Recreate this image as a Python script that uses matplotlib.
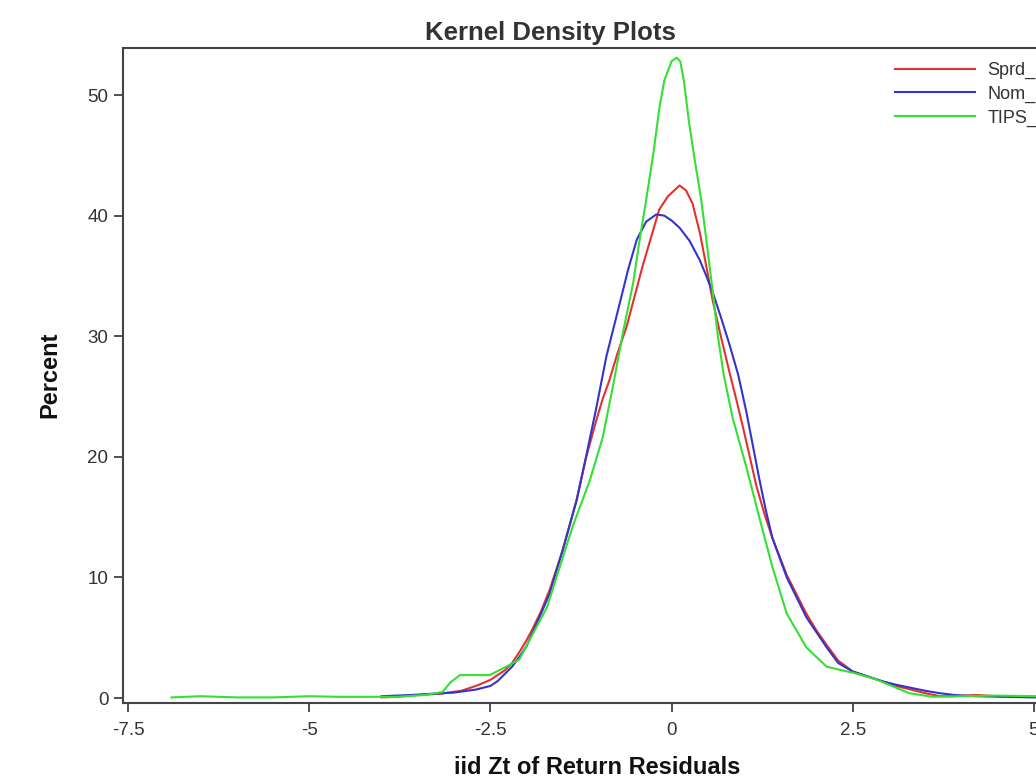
import matplotlib.pyplot as plt

plt.rcParams['font.family'] = ['Liberation Sans', 'DejaVu Sans']

# Sprd series
sprd_x = [-4.0, -3.8, -3.5, -3.2, -2.9, -2.7, -2.5, -2.3, -2.2, -2.1, -2.0, -1.92, -1.8, -1.68,
          -1.5, -1.31, -1.18, -1.04, -0.95, -0.86, -0.75, -0.62, -0.4, -0.17, -0.05, 0.11, 0.2,
          0.29, 0.39, 0.48, 0.57, 0.68, 0.8, 0.9, 0.98, 1.08, 1.17, 1.28, 1.39, 1.59, 1.86,
          2.0, 2.14, 2.3, 2.5, 2.7, 2.9, 3.1, 3.3, 3.5, 3.7, 3.9, 4.2, 4.5, 5.0, 5.3]
sprd_y = [0.05, 0.1, 0.25, 0.35, 0.6, 1.0, 1.5, 2.3, 2.9, 3.8, 4.8, 5.7, 7.2, 9.0,
          12.3, 16.4, 19.9, 23.0, 24.8, 26.3, 28.5, 30.8, 35.8, 40.5, 41.6, 42.5, 42.1,
          41.0, 38.6, 35.8, 32.9, 30.0, 27.0, 24.6, 22.6, 20.0, 17.6, 15.3, 13.3, 10.2, 7.0,
          5.6, 4.4, 3.1, 2.2, 1.8, 1.4, 1.0, 0.7, 0.4, 0.15, 0.15, 0.25, 0.15, 0.1, 0.1]

# Nom series
nom_x = [-4.0, -3.6, -3.3, -3.0, -2.7, -2.5, -2.4, -2.3, -2.2, -2.1, -2.0, -1.92, -1.8, -1.68,
         -1.5, -1.31, -1.18, -1.04, -0.9, -0.72, -0.6, -0.48, -0.35, -0.21, -0.1, 0.0, 0.11,
         0.25, 0.39, 0.48, 0.57, 0.68, 0.8, 0.92, 1.03, 1.12, 1.21, 1.3, 1.39, 1.59, 1.86,
         2.14, 2.3, 2.5, 2.7, 2.9, 3.1, 3.3, 3.5, 3.7, 3.9, 4.2, 4.6, 5.0, 5.3]
nom_y = [0.15, 0.25, 0.35, 0.45, 0.7, 1.0, 1.4, 2.0, 2.6, 3.4, 4.3, 5.4, 7.0, 8.7,
         12.3, 16.4, 20.0, 24.0, 28.3, 32.6, 35.5, 38.0, 39.5, 40.1, 40.0, 39.6, 39.0,
         37.9, 36.3, 35.0, 33.6, 31.6, 29.3, 26.8, 23.8, 21.0, 18.2, 15.6, 13.3, 10.0, 6.7,
         4.2, 2.9, 2.2, 1.8, 1.4, 1.1, 0.85, 0.6, 0.4, 0.25, 0.15, 0.1, 0.05, 0.05]

# TIPS series
tips_x = [-6.9, -6.5, -6.0, -5.5, -5.0, -4.6, -4.2, -3.8, -3.4, -3.16, -3.05, -2.92, -2.69, -2.51,
          -2.28, -2.1, -1.96, -1.72, -1.54, -1.36, -1.13, -0.95, -0.81, -0.67, -0.53, -0.44,
          -0.35, -0.25, -0.166, -0.1, 0.0, 0.07, 0.12, 0.17, 0.24, 0.31, 0.41, 0.48, 0.57,
          0.64, 0.72, 0.84, 1.03, 1.21, 1.39, 1.59, 1.86, 2.14, 2.35, 2.5, 2.8, 3.0, 3.28, 3.6,
          4.0, 4.5, 5.0, 5.3]
tips_y = [0.05, 0.15, 0.05, 0.05, 0.15, 0.1, 0.1, 0.1, 0.25, 0.5, 1.3, 1.9, 1.9, 1.9,
          2.6, 3.2, 4.8, 7.5, 10.9, 14.3, 18.0, 21.6, 25.8, 30.3, 34.4, 38.0,
          41.3, 45.2, 49.0, 51.2, 52.8, 53.1, 52.8, 51.2, 47.8, 45.0, 41.3, 38.0, 33.6,
          30.0, 26.8, 23.3, 19.2, 15.0, 10.9, 7.0, 4.2, 2.6, 2.3, 2.1, 1.6, 1.1, 0.4, 0.1,
          0.15, 0.2, 0.15, 0.1]

x_ticks = [-7.5, -5, -2.5, 0, 2.5, 5]
x_tick_labels = ['-7.5', '-5', '-2.5', '0', '2.5', '5']
y_ticks = [0, 10, 20, 30, 40, 50]
labels = ['Sprd_Zt', 'Nom_Zt', 'TIPS_Zt']

fig = plt.figure(figsize=(10.36, 7.82), dpi=100)
ax = fig.add_axes([0.1187, 0.1010, 0.9237, 0.8376])

ax.plot(sprd_x, sprd_y, color='#e5302f', lw=1.5, label=labels[0])
ax.plot(nom_x, nom_y, color='#3434cc', lw=1.5, label=labels[1])
ax.plot(tips_x, tips_y, color='#33e033', lw=1.5, label=labels[2])

ax.set_xlim(-7.569, 5.635)
ax.set_ylim(-0.415, 53.9)
ax.set_xticks(x_ticks)
ax.set_xticklabels(x_tick_labels)
ax.set_yticks(y_ticks)
ax.tick_params(direction='out', length=6.5, width=1.2, colors='#333333',
               labelsize=13.5)
ax.tick_params(axis='x', pad=7)
ax.tick_params(axis='y', pad=4)
for side in ['left', 'bottom', 'top', 'right']:
    ax.spines[side].set_color('#444444')
    ax.spines[side].set_linewidth(1.5)

fig.text(550 / 1036, 1 - 33 / 782, 'Kernel Density Plots', ha='center', va='center',
         fontsize=18.5, fontweight='bold', color='#333333')
fig.text(597 / 1036, 1 - 768 / 782, 'iid Zt of Return Residuals', ha='center', va='center',
         fontsize=17, fontweight='bold', color='#111111')
fig.text(50 / 1036, 1 - 375 / 782, 'Percent', ha='center', va='center', rotation=90,
         fontsize=17, fontweight='bold', color='#111111')

ax.legend(loc='upper left', bbox_to_anchor=(895 / 1036, 1 - 62 / 782),
          bbox_transform=fig.transFigure, frameon=False, fontsize=13,
          handlelength=4.44, handletextpad=0.67, labelspacing=0.36, borderpad=0,
          borderaxespad=0, labelcolor='#333333')

fig.savefig('out.png', dpi=100)
